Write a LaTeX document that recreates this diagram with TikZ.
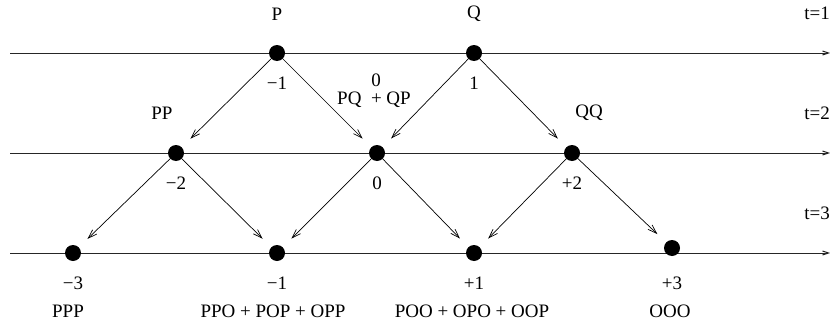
\documentclass[tikz,border=0pt]{standalone}
\usepackage{fontspec}
\setmainfont{Liberation Serif}
\usetikzlibrary{arrows.meta}
\tikzset{
    dot/.style={circle, fill, inner sep=0pt, minimum size=16pt},
    lbl/.style={inner sep=0pt, font=\fontsize{19}{22}\selectfont},
    move/.style={draw, line width=0.7pt, -{Straight Barb[length=9pt,width=6pt]}, shorten >=12pt},
    timeline/.style={draw, line width=1pt, black!85, -{Straight Barb[length=6pt,width=4pt]}}
}
\begin{document}
\begin{tikzpicture}[x=1pt, y=-1pt]
    \useasboundingbox (0,0) rectangle (830,324);
    % time lines
    \coordinate (s1) at (10,53);  \coordinate (e1) at (830,53);
    \coordinate (s2) at (10,153); \coordinate (e2) at (830,153);
    \coordinate (s3) at (10,253); \coordinate (e3) at (830,253);
    \draw[timeline] (s1) -- (e1);
    \draw[timeline] (s2) -- (e2);
    \draw[timeline] (s3) -- (e3);
    \node[lbl, anchor=east] (t1) at (830,13) {t=1};
    \node[lbl, anchor=east] (t2) at (830,113) {t=2};
    \node[lbl, anchor=east] (t3) at (830,213) {t=3};

    % Nodes
    \node[dot] (P) at (277,53) {};
    \node[dot] (Q) at (474,53) {};
    \node[dot] (PP) at (176,153) {};
    \node[dot] (PQ) at (377,153) {};
    \node[dot] (QQ) at (572,153) {};
    \node[dot] (PPP) at (73,253) {};
    \node[dot] (PPQ) at (277,253) {};
    \node[dot] (PQQ) at (474,253) {};
    \node[dot] (QQQ) at (672,248) {};

    % labels
    \node[lbl] (lP) at (277,14) {P};
    \node[lbl] (lQ) at (474,14) {Q};
    \node[lbl] (vP) at (277,83) {−1};
    \node[lbl] (vQ) at (474,83) {1};
    \node[lbl] (lPP) at (162,113) {PP};
    \node[lbl] (vPQ) at (376,80) {0};
    \node[lbl] (lPQ) at (374,100) {PQ\ \ + QP};
    \node[lbl] (lQQ) at (589,113) {QQ};
    \node[lbl] (vPP) at (176,183) {−2};
    \node[lbl] (vPQb) at (377,183) {0};
    \node[lbl] (vQQ) at (572,183) {+2};
    \node[lbl] (vPPP) at (73,283) {−3};
    \node[lbl] (vPPQ) at (277,283) {−1};
    \node[lbl] (vPQQ) at (474,283) {+1};
    \node[lbl] (vQQQ) at (672,283) {+3};
    \node[lbl] (lPPP) at (68,311) {PPP};
    \node[lbl] (lPPQ) at (273,311) {PPO + POP + OPP};
    \node[lbl] (lPQQ) at (472,311) {POO + OPO + OOP};
    \node[lbl] (lQQQ) at (670,311) {OOO};

    % edges
    \draw[move] (P) -- (PP);
    \draw[move] (P) -- (PQ);
    \draw[move] (Q) -- (PQ);
    \draw[move] (Q) -- (QQ);
    \draw[move] (PP) -- (PPP);
    \draw[move] (PP) -- (PPQ);
    \draw[move] (PQ) -- (PPQ);
    \draw[move] (PQ) -- (PQQ);
    \draw[move] (QQ) -- (PQQ);
    \draw[move] (QQ) -- (QQQ);
\end{tikzpicture}
\end{document}
